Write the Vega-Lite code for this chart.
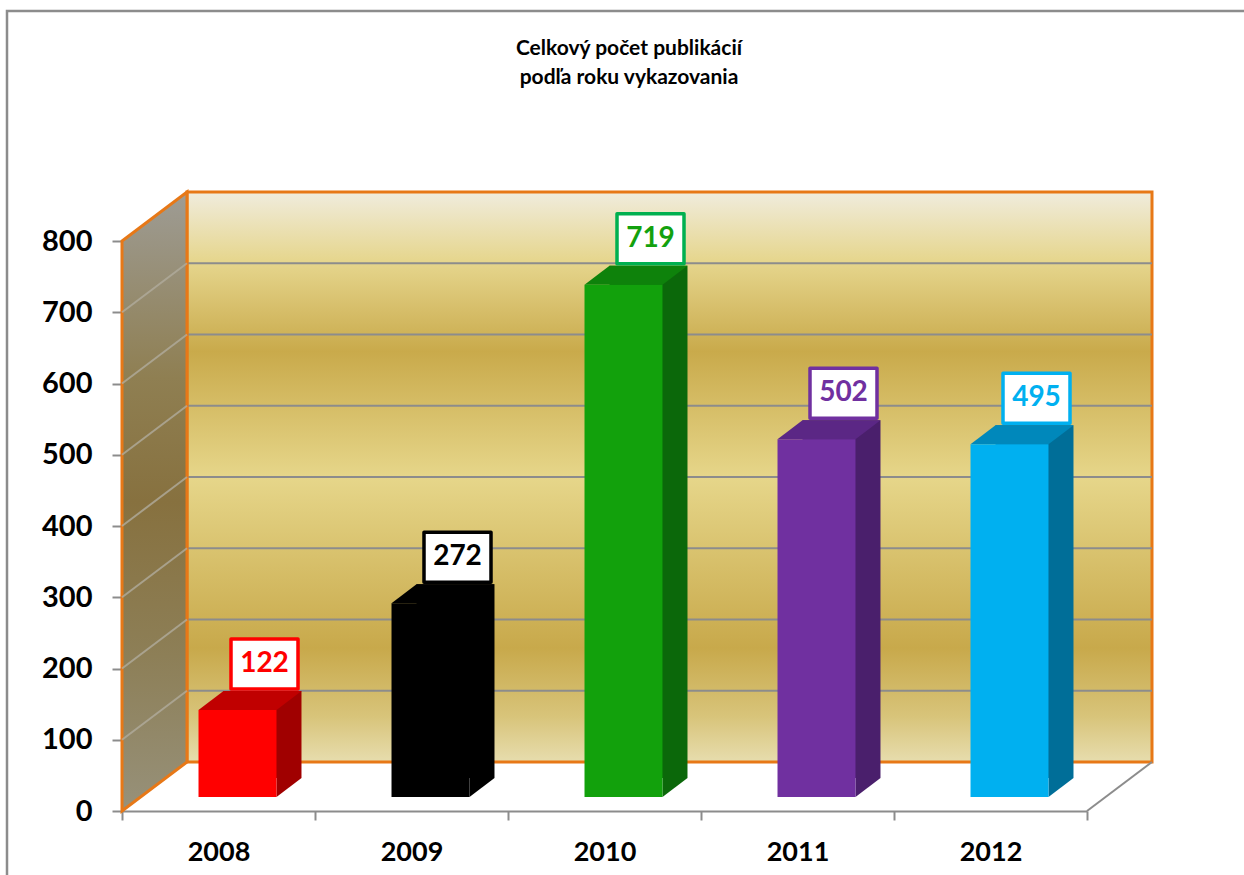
{
  "$schema": "https://vega.github.io/schema/vega-lite/v6.json",
  "width": 1244,
  "height": 880,
  "autosize": "none",
  "padding": {"left": 7, "top": 11, "right": 0, "bottom": 0},
  "background": "white",
  "title": {
    "text": ["Celkový počet publikácií", "podľa roku vykazovania"],
    "font": "Lato",
    "fontSize": 21,
    "fontWeight": "bold",
    "lineHeight": 29,
    "anchor": "middle",
    "frame": "group",
    "orient": "top",
    "baseline": "top",
    "offset": -77,
    "color": "#000000"
  },
  "datasets": {
    "pubs": [
      {"year": "2008", "count": 122},
      {"year": "2009", "count": 272},
      {"year": "2010", "count": 719},
      {"year": "2011", "count": 502},
      {"year": "2012", "count": 495}
    ],
    "ticks": [
      {"v": 100}, {"v": 200}, {"v": 300}, {"v": 400}, {"v": 500}, {"v": 600}, {"v": 700}
    ]
  },
  "config": {
    "view": {"stroke": "#8C8C8C", "strokeWidth": 2.5},
    "font": "Lato",
    "axisY": {
      "offset": -115,
      "domainColor": "#E77817",
      "domainWidth": 3,
      "tickColor": "#8C8C8C",
      "tickWidth": 2,
      "tickSize": 10,
      "tickCount": 8,
      "labelFont": "Lato",
      "labelFontWeight": "bold",
      "labelFontSize": 29,
      "labelColor": "#000000",
      "labelPadding": 20,
      "grid": false
    },
    "axisX": {
      "offset": -80,
      "domainColor": "#8C8C8C",
      "domainWidth": 2,
      "tickColor": "#8C8C8C",
      "tickWidth": 2,
      "tickSize": 9,
      "tickBand": "extent",
      "labelFont": "Lato",
      "labelFontWeight": "bold",
      "labelFontSize": 27,
      "labelColor": "#000000",
      "labelPadding": 19,
      "labelAngle": 0,
      "grid": false
    }
  },
  "resolve": {"scale": {"x": "independent", "color": "independent"}},
  "layer": [
    {
      "data": {"values": [{}]},
      "layer": [
        {
          "mark": {
            "type": "rect",
            "xOffset": 65, "x2Offset": 65, "yOffset": -49, "y2Offset": -49,
            "fill": {
              "gradient": "linear", "x1": 0, "y1": 0, "x2": 0, "y2": 1,
              "stops": [
                {"offset": 0, "color": "#F0ECDD"},
                {"offset": 0.12, "color": "#E6D68E"},
                {"offset": 0.28, "color": "#C9AA4B"},
                {"offset": 0.5, "color": "#E6D68A"},
                {"offset": 0.66, "color": "#D6BE68"},
                {"offset": 0.8, "color": "#C8A94B"},
                {"offset": 0.92, "color": "#D8C47A"},
                {"offset": 1, "color": "#E7DDAE"}
              ]
            },
            "stroke": "#E77817",
            "strokeWidth": 3
          },
          "encoding": {
            "x": {"datum": 0, "type": "quantitative", "scale": {"domain": [0, 1], "range": [115, 1080]}, "axis": null},
            "x2": {"datum": 1},
            "y": {"datum": 0, "type": "quantitative", "scale": {"domain": [0, 800], "range": [800, 230], "nice": false, "zero": true}, "title": null},
            "y2": {"datum": 800}
          }
        },
        {
          "data": {"name": "ticks"},
          "mark": {"type": "rule", "xOffset": 65, "x2Offset": 65, "yOffset": -49, "color": "#8C8C8C", "strokeWidth": 2},
          "encoding": {
            "x": {"datum": 0, "type": "quantitative", "scale": {"domain": [0, 1], "range": [115, 1080]}, "axis": null},
            "x2": {"datum": 1},
            "y": {"field": "v", "type": "quantitative", "scale": {"domain": [0, 800], "range": [800, 230], "nice": false, "zero": true}, "title": null}
          }
        },
        {
          "mark": {
            "type": "point",
            "shape": "M 0 0 L 0 -57 L 6.5 -61.9 L 6.5 -4.9 Z",
            "size": 400,
            "filled": true,
            "opacity": 1,
            "fill": {
              "gradient": "linear", "x1": 0, "y1": 0, "x2": 0, "y2": 1,
              "stops": [
                {"offset": 0, "color": "#9E9C95"},
                {"offset": 0.3, "color": "#8F7F52"},
                {"offset": 0.5, "color": "#87713F"},
                {"offset": 0.75, "color": "#8D7F57"},
                {"offset": 1, "color": "#97917A"}
              ]
            },
            "stroke": "#E77817",
            "strokeWidth": 3,
            "strokeJoin": "miter"
          },
          "encoding": {
            "x": {"datum": 0, "type": "quantitative", "scale": {"domain": [0, 1], "range": [115, 1080]}, "axis": null},
            "y": {"datum": 0, "type": "quantitative", "scale": {"domain": [0, 800], "range": [800, 230], "nice": false, "zero": true}, "title": null}
          }
        },
        {
          "data": {"name": "ticks"},
          "mark": {"type": "rule", "x2Offset": 65, "y2Offset": -49, "color": "#B0AB9C", "strokeWidth": 2, "opacity": 0.8},
          "encoding": {
            "x": {"datum": 0, "type": "quantitative", "scale": {"domain": [0, 1], "range": [115, 1080]}, "axis": null},
            "x2": {"datum": 0},
            "y": {"field": "v", "type": "quantitative", "scale": {"domain": [0, 800], "range": [800, 230], "nice": false, "zero": true}, "title": null},
            "y2": {"field": "v"}
          }
        },
        {
          "mark": {"type": "rule", "x2Offset": 65, "y2Offset": -49, "color": "#8C8C8C", "strokeWidth": 2},
          "encoding": {
            "x": {"datum": 1, "type": "quantitative", "scale": {"domain": [0, 1], "range": [115, 1080]}, "axis": null},
            "x2": {"datum": 1},
            "y": {"datum": 0, "type": "quantitative", "scale": {"domain": [0, 800], "range": [800, 230], "nice": false, "zero": true}, "title": null},
            "y2": {"datum": 0}
          }
        }
      ]
    },
    {
      "data": {"name": "pubs"},
      "encoding": {
        "x": {"field": "year", "type": "nominal", "scale": {"range": [115, 1080], "paddingInner": 0, "paddingOuter": 0}, "title": null}
      },
      "resolve": {"scale": {"color": "independent"}},
      "layer": [
        {
          "mark": {"type": "bar", "width": {"band": 0.404}, "xOffset": 44, "yOffset": -33, "y2Offset": -33},
          "encoding": {
            "y": {"field": "count", "type": "quantitative", "stack": null, "scale": {"domain": [0, 800], "range": [800, 230], "nice": false, "zero": true}, "title": null},
            "y2": {"datum": 0},
            "color": {"field": "year", "type": "nominal", "scale": {"range": ["#A00000", "#000000", "#0B680A", "#4A1F6C", "#006E98"]}, "legend": null}
          }
        },
        {
          "mark": {"type": "point", "shape": "M -3.9 0 L 3.9 0 L 6.4 -1.9 L -1.4 -1.9 Z", "size": 400, "filled": true, "opacity": 1, "strokeWidth": 0, "xOffset": 19, "yOffset": -14},
          "encoding": {
            "y": {"field": "count", "type": "quantitative", "scale": {"domain": [0, 800], "range": [800, 230], "nice": false, "zero": true}, "title": null},
            "color": {"field": "year", "type": "nominal", "scale": {"range": ["#C00000", "#000000", "#0E820B", "#5B2785", "#0088BB"]}, "legend": null}
          }
        },
        {
          "mark": {"type": "point", "shape": "M 3.9 0 L 3.9 -1.9 L 6.4 -1.9 Z", "size": 400, "filled": true, "opacity": 1, "strokeWidth": 0, "xOffset": 19, "yOffset": -14},
          "encoding": {
            "y": {"datum": 0, "type": "quantitative", "scale": {"domain": [0, 800], "range": [800, 230], "nice": false, "zero": true}, "title": null},
            "color": {"field": "year", "type": "nominal", "scale": {"range": ["#A00000", "#000000", "#0B680A", "#4A1F6C", "#006E98"]}, "legend": null}
          }
        },
        {
          "mark": {"type": "bar", "width": {"band": 0.404}, "xOffset": 19, "yOffset": -14, "y2Offset": -14},
          "encoding": {
            "y": {"field": "count", "type": "quantitative", "stack": null, "scale": {"domain": [0, 800], "range": [800, 230], "nice": false, "zero": true}, "title": null},
            "y2": {"datum": 0},
            "color": {"field": "year", "type": "nominal", "scale": {"range": ["#FF0000", "#000000", "#12A10C", "#7030A0", "#00B0F0"]}, "legend": null}
          }
        },
        {
          "mark": {"type": "point", "shape": "M -3.35 -2.5 L 3.35 -2.5 L 3.35 2.5 L -3.35 2.5 Z", "size": 400, "filled": true, "opacity": 1, "fill": "#FFFFFF", "strokeWidth": 3.5, "strokeJoin": "round", "xOffset": 46, "yOffset": -60},
          "encoding": {
            "y": {"field": "count", "type": "quantitative", "scale": {"domain": [0, 800], "range": [800, 230], "nice": false, "zero": true}, "title": null},
            "stroke": {"field": "year", "type": "nominal", "scale": {"range": ["#FF0000", "#000000", "#00B050", "#7030A0", "#00B0F0"]}, "legend": null}
          }
        },
        {
          "mark": {"type": "text", "font": "Lato", "fontWeight": "bold", "fontSize": 28, "align": "center", "baseline": "middle", "xOffset": 46, "yOffset": -60},
          "encoding": {
            "y": {"field": "count", "type": "quantitative", "scale": {"domain": [0, 800], "range": [800, 230], "nice": false, "zero": true}, "title": null},
            "text": {"field": "count", "type": "quantitative"},
            "color": {"field": "year", "type": "nominal", "scale": {"range": ["#FF0000", "#000000", "#13A10E", "#7030A0", "#00B0F0"]}, "legend": null}
          }
        }
      ]
    }
  ]
}
